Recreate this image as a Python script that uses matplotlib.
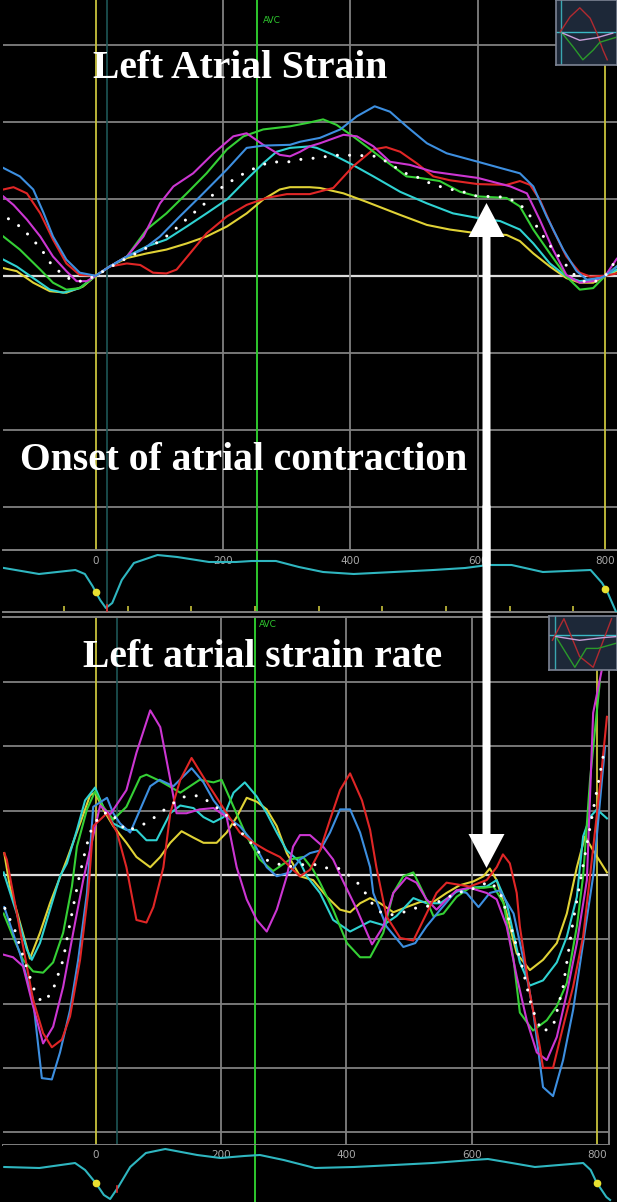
import numpy as np
import matplotlib
matplotlib.use("Agg")
import matplotlib.pyplot as plt
from matplotlib.patches import FancyArrow

W, H, DPI = 617, 1202, 100

# ---------------- Left atrial strain (%) vs time (ms) ----------------
ls_blue_t = [-145, -119, -98, -82, -67, -46, -25, 0, 22, 49, 74, 101, 132, 164, 206, 237, 263, 305, 321, 352, 384, 410, 438, 462, 488, 520, 551, 600, 635, 666, 687, 708, 734, 755, 771, 792, 800, 818]
ls_blue_v = [14.0, 12.9, 11.2, 8.2, 5.1, 2.1, 0.4, 0.0, 1.2, 2.5, 3.4, 5.1, 7.7, 10.3, 13.8, 16.6, 16.9, 17.0, 17.4, 17.9, 19.0, 20.7, 22.0, 21.3, 19.4, 17.2, 15.9, 14.8, 14.0, 13.3, 11.6, 7.7, 3.4, 0.6, -0.5, -0.3, 0.0, 1.2]

ls_red_t = [-145, -129, -108, -87, -67, -46, -25, 0, 22, 49, 70, 90, 111, 127, 148, 174, 206, 237, 268, 300, 336, 373, 404, 436, 456, 478, 504, 530, 556, 600, 645, 666, 682, 697, 718, 739, 760, 776, 800, 818]
ls_red_v = [11.2, 11.5, 10.7, 8.1, 4.7, 1.6, 0.1, 0.0, 1.2, 1.6, 1.4, 0.4, 0.3, 0.8, 2.9, 5.5, 7.7, 9.2, 10.1, 10.6, 10.6, 11.4, 14.2, 16.4, 16.7, 16.1, 14.6, 12.9, 12.4, 11.9, 11.8, 12.3, 11.8, 9.9, 6.0, 2.5, 0.4, -0.1, 0.0, 0.3]

ls_mag_t = [-145, -129, -108, -87, -67, -46, -30, -14, 0, 22, 49, 75, 101, 122, 153, 185, 216, 237, 263, 289, 305, 321, 336, 352, 389, 410, 436, 462, 493, 530, 600, 651, 677, 697, 718, 739, 760, 781, 800, 818]
ls_mag_v = [10.3, 9.2, 7.3, 5.1, 2.5, 0.6, -0.7, -0.7, 0.0, 1.2, 2.5, 5.1, 9.4, 11.6, 13.3, 15.9, 18.1, 18.5, 17.0, 15.7, 15.5, 16.1, 16.8, 17.2, 18.3, 18.1, 16.8, 14.8, 14.4, 13.5, 12.7, 11.6, 10.7, 7.3, 3.4, 0.1, -0.9, -0.7, 0.0, 2.2]

ls_grn_t = [-145, -119, -87, -67, -46, -25, 0, 22, 49, 80, 111, 143, 174, 206, 232, 263, 305, 336, 357, 378, 404, 425, 452, 488, 509, 540, 572, 600, 645, 666, 687, 713, 739, 760, 781, 800, 818]
ls_grn_v = [5.1, 3.4, 0.8, -0.9, -1.8, -1.6, 0.0, 1.2, 2.5, 6.0, 8.1, 10.7, 13.3, 16.4, 18.1, 19.0, 19.4, 19.9, 20.3, 19.6, 18.1, 16.8, 15.1, 12.9, 12.7, 12.3, 10.9, 10.3, 10.1, 9.0, 6.0, 2.9, -0.1, -1.8, -1.6, 0.0, 1.2]

ls_cyn_t = [-145, -124, -98, -72, -51, -25, 0, 22, 49, 80, 111, 143, 174, 206, 237, 263, 284, 305, 336, 347, 373, 399, 436, 478, 520, 561, 600, 635, 666, 687, 713, 739, 760, 781, 800, 818]
ls_cyn_v = [2.1, 1.2, -0.3, -1.8, -2.2, -1.6, 0.0, 1.2, 2.5, 3.8, 4.7, 6.4, 8.1, 9.9, 12.5, 14.6, 16.1, 16.6, 16.8, 16.6, 15.7, 14.6, 12.9, 10.9, 9.4, 8.1, 7.5, 7.1, 6.0, 4.2, 1.6, -0.1, -0.7, -0.5, 0.0, 0.8]

ls_yel_t = [-145, -124, -98, -72, -46, -20, 0, 22, 49, 80, 111, 143, 174, 206, 237, 263, 289, 305, 336, 352, 389, 425, 478, 520, 556, 600, 645, 666, 687, 713, 739, 760, 781, 800, 818]
ls_yel_v = [1.0, 0.6, -0.9, -2.0, -2.2, -1.4, 0.0, 1.2, 2.3, 2.9, 3.4, 4.2, 5.1, 6.4, 8.1, 9.9, 11.2, 11.5, 11.5, 11.4, 10.7, 9.6, 7.9, 6.6, 6.0, 5.5, 5.3, 4.5, 2.9, 1.2, -0.3, -0.9, -0.9, 0.0, 0.6]

ls_avg_t = [-137, -119, -103, -85, -69, -51, -35, -20, 0, 33, 70, 101, 117, 135, 153, 169, 185, 203, 221, 237, 271, 289, 305, 321, 336, 355, 373, 389, 407, 423, 441, 457, 472, 491, 509, 525, 540, 559, 577, 593, 611, 630, 645, 661, 677, 687, 697, 708, 718, 734, 747, 766, 781, 800, 815]
ls_avg_v = [7.4, 6.4, 5.1, 3.4, 1.4, 0.1, -0.7, -0.7, 0.0, 1.6, 3.2, 4.5, 5.5, 6.8, 8.1, 9.2, 10.6, 11.8, 12.7, 13.5, 14.7, 14.8, 14.8, 15.1, 15.2, 15.4, 15.6, 15.7, 15.6, 15.6, 15.5, 14.8, 14.0, 13.1, 12.7, 12.0, 11.6, 11.2, 10.9, 10.4, 10.3, 10.3, 10.1, 9.6, 8.4, 7.1, 5.8, 4.5, 3.4, 1.9, 0.4, -0.7, -0.9, 0.0, 1.8]

# ---------------- Left atrial strain rate (1/s) vs time (ms) ----------------
sr_red_t = [-146, -142, -100, -84, -70, -54, -41, -25, -12, -4, 18, 34, 49, 65, 81, 92, 108, 119, 135, 153, 172, 188, 209, 230, 252, 273, 294, 315, 326, 342, 358, 374, 390, 406, 425, 438, 448, 464, 486, 507, 528, 544, 560, 597, 624, 640, 650, 661, 672, 677, 693, 709, 714, 730, 746, 762, 778, 789, 806, 816]
sr_red_v = [0.17, 0.12, -0.97, -1.23, -1.34, -1.28, -1.10, -0.66, -0.14, 0.38, 0.48, 0.33, 0.06, -0.35, -0.37, -0.25, 0.06, 0.48, 0.74, 0.91, 0.76, 0.64, 0.48, 0.33, 0.25, 0.19, 0.14, 0.04, -0.01, 0.04, 0.19, 0.43, 0.66, 0.79, 0.58, 0.35, 0.06, -0.32, -0.49, -0.51, -0.30, -0.14, -0.06, -0.09, -0.04, 0.06, 0.16, 0.09, -0.14, -0.40, -0.92, -1.34, -1.50, -1.50, -1.18, -0.87, -0.48, -0.01, 0.74, 1.23]

sr_blue_t = [-146, -121, -100, -86, -70, -57, -41, -28, -14, -4, 18, 28, 39, 55, 71, 87, 102, 124, 153, 172, 188, 209, 230, 252, 273, 289, 310, 326, 342, 358, 374, 390, 406, 422, 438, 443, 464, 491, 510, 528, 550, 576, 592, 611, 629, 645, 667, 683, 698, 714, 730, 746, 762, 778, 794, 813]
sr_blue_v = [-0.25, -0.61, -0.97, -1.58, -1.59, -1.38, -1.05, -0.66, -0.14, 0.53, 0.60, 0.48, 0.40, 0.33, 0.51, 0.69, 0.74, 0.69, 0.83, 0.72, 0.58, 0.45, 0.38, 0.25, 0.06, -0.01, 0.02, 0.12, 0.17, 0.19, 0.33, 0.51, 0.51, 0.33, 0.06, -0.14, -0.40, -0.56, -0.53, -0.40, -0.27, -0.12, -0.14, -0.25, -0.14, -0.12, -0.30, -0.66, -1.05, -1.65, -1.72, -1.44, -1.05, -0.53, -0.01, 1.00]

sr_mag_t = [-147, -132, -116, -100, -84, -68, -52, -36, -20, 7, 23, 49, 65, 87, 103, 119, 129, 145, 166, 188, 209, 225, 241, 257, 273, 289, 305, 315, 326, 342, 363, 379, 395, 417, 441, 459, 475, 496, 512, 528, 544, 560, 576, 597, 624, 640, 656, 672, 688, 704, 720, 736, 752, 768, 784, 794, 808]
sr_mag_v = [-0.62, -0.64, -0.71, -1.02, -1.31, -1.18, -0.87, -0.45, -0.04, 0.54, 0.47, 0.66, 0.95, 1.28, 1.15, 0.74, 0.48, 0.48, 0.51, 0.52, 0.45, 0.06, -0.19, -0.35, -0.44, -0.27, -0.01, 0.22, 0.31, 0.31, 0.22, 0.12, -0.05, -0.27, -0.54, -0.40, -0.14, -0.02, -0.06, -0.19, -0.27, -0.19, -0.12, -0.10, -0.14, -0.19, -0.40, -0.79, -1.13, -1.38, -1.44, -1.26, -0.92, -0.53, -0.04, 1.26, 1.60]

sr_grn_t = [-147, -132, -116, -100, -84, -68, -52, -38, -30, -14, -1, 12, 28, 49, 71, 81, 103, 135, 166, 188, 201, 220, 241, 262, 283, 310, 331, 347, 358, 379, 401, 422, 438, 459, 475, 491, 507, 523, 539, 555, 576, 597, 619, 635, 651, 667, 677, 698, 720, 736, 752, 768, 778, 789, 805]
sr_grn_v = [-0.30, -0.48, -0.66, -0.75, -0.76, -0.68, -0.45, -0.09, 0.22, 0.51, 0.65, 0.53, 0.43, 0.53, 0.76, 0.78, 0.73, 0.64, 0.74, 0.72, 0.74, 0.53, 0.30, 0.12, 0.03, 0.12, 0.14, 0.04, -0.06, -0.27, -0.53, -0.64, -0.64, -0.45, -0.14, -0.01, 0.02, -0.14, -0.32, -0.30, -0.17, -0.10, -0.10, -0.09, -0.22, -0.66, -1.07, -1.21, -1.13, -1.02, -0.84, -0.40, -0.01, 0.74, 1.52]

sr_cyn_t = [-147, -126, -110, -102, -89, -73, -57, -46, -30, -17, -1, 12, 28, 49, 65, 81, 97, 119, 135, 156, 172, 188, 204, 220, 238, 257, 273, 289, 305, 326, 337, 358, 379, 406, 438, 459, 480, 507, 528, 550, 576, 597, 624, 640, 656, 677, 693, 714, 736, 752, 768, 778, 789, 800, 816]
sr_cyn_v = [0.02, -0.30, -0.58, -0.66, -0.53, -0.27, -0.01, 0.09, 0.35, 0.58, 0.68, 0.53, 0.40, 0.35, 0.35, 0.27, 0.27, 0.48, 0.54, 0.52, 0.45, 0.41, 0.45, 0.64, 0.72, 0.61, 0.48, 0.33, 0.19, 0.10, -0.01, -0.14, -0.35, -0.44, -0.36, -0.39, -0.32, -0.18, -0.22, -0.22, -0.13, -0.10, -0.09, -0.04, -0.22, -0.68, -0.86, -0.82, -0.68, -0.48, -0.17, 0.30, 0.45, 0.51, 0.44]

sr_yel_t = [-146, -137, -121, -105, -89, -73, -54, -46, -25, -9, -1, 12, 28, 49, 65, 87, 103, 119, 137, 156, 172, 193, 209, 225, 241, 257, 273, 289, 305, 326, 347, 369, 390, 406, 422, 438, 454, 475, 496, 518, 539, 560, 581, 603, 619, 629, 640, 645, 656, 672, 693, 714, 736, 752, 768, 781, 794, 816]
sr_yel_v = [0.17, -0.09, -0.37, -0.65, -0.45, -0.22, 0.02, 0.12, 0.40, 0.62, 0.64, 0.51, 0.38, 0.25, 0.14, 0.06, 0.14, 0.25, 0.34, 0.29, 0.25, 0.25, 0.33, 0.45, 0.60, 0.57, 0.51, 0.38, 0.17, -0.01, -0.04, -0.17, -0.27, -0.29, -0.22, -0.18, -0.22, -0.29, -0.25, -0.21, -0.21, -0.14, -0.08, -0.05, -0.01, 0.05, -0.04, -0.12, -0.30, -0.61, -0.74, -0.66, -0.53, -0.30, 0.06, 0.30, 0.19, 0.02]

sr_avg_t = [-145, -129, -113, -97, -86, -70, -61, -52, -44, -36, -27, -17, -9, 7, 23, 49, 84, 102, 119, 135, 153, 169, 188, 204, 220, 236, 246, 270, 289, 305, 323, 355, 371, 390, 414, 425, 441, 457, 472, 491, 507, 526, 542, 560, 576, 595, 611, 629, 645, 661, 680, 696, 712, 730, 746, 762, 773, 792, 813]
sr_avg_v = [-0.26, -0.43, -0.68, -0.91, -0.99, -0.92, -0.79, -0.66, -0.45, -0.25, -0.03, 0.18, 0.33, 0.47, 0.49, 0.34, 0.41, 0.48, 0.54, 0.60, 0.62, 0.61, 0.54, 0.49, 0.40, 0.31, 0.26, 0.12, 0.09, 0.06, 0.08, 0.08, 0.05, 0.05, -0.04, -0.10, -0.22, -0.30, -0.31, -0.29, -0.26, -0.25, -0.22, -0.18, -0.14, -0.12, -0.09, -0.05, -0.13, -0.37, -0.70, -1.03, -1.22, -1.18, -0.87, -0.36, -0.06, 0.45, 1.00]

# ---------------- ECG traces ----------------
ecg1_t = [-144, -89, -32, -17, -5, 7, 16, 26, 41, 60, 97, 128, 178, 220, 245, 283, 319, 357, 405, 468, 530, 580, 616, 653, 702, 777, 795, 804, 817]
ecg1_v = [0.2, -0.1, 0.1, -0.1, -0.7, -1.4, -1.8, -1.55, -0.4, 0.45, 0.85, 0.75, 0.5, 0.5, 0.55, 0.55, 0.25, 0.0, -0.1, 0.0, 0.1, 0.2, 0.35, 0.35, 0.0, 0.1, -0.55, -1.05, -2.0]
ecg2_t = [-146, -90, -33, -17, 0, 13, 23, 36, 55, 80, 111, 162, 199, 237, 262, 300, 350, 412, 476, 538, 601, 626, 664, 701, 778, 790, 799, 815, 821]
ecg2_v = [-0.1, -0.15, 0.1, -0.25, -0.9, -1.5, -1.7, -1.1, -0.1, 0.6, 0.8, 0.5, 0.35, 0.45, 0.5, 0.25, -0.15, -0.1, 0.0, 0.1, 0.25, 0.3, 0.1, -0.1, 0.1, -0.25, -0.85, -1.6, -1.75]

# ---------------- events / labels ----------------
time_ticks = [0, 200, 400, 600, 800]
time_labels = ["0", "200", "400", "600", "800"]
grid_times = [200, 400, 600]
cycle_marks = [0, 800]
minor_marks = [-50, 50, 150, 250, 350, 450, 550, 650, 750]
avc_top, avc_bot = 254, 255
teal_top, teal_bot = 17, 34
strain_grid = [-30, -20, -10, 10, 20, 30]
rate_grid = [-2.0, -1.5, -1.0, -0.5, 0.5, 1.0, 1.5]

# thumbnails (normalised inset coordinates)
th1_red_x = [0.07, 0.23, 0.39, 0.56, 0.67, 0.77, 0.84]
th1_red_y = [0.51, 0.74, 0.88, 0.72, 0.49, 0.23, 0.08]
th1_grn_x = [0.10, 0.28, 0.44, 0.61, 0.72, 1.0]
th1_grn_y = [0.49, 0.28, 0.08, 0.23, 0.35, 0.43]
th1_pnk_x = [0.11, 0.39, 0.67, 0.93]
th1_pnk_y = [0.49, 0.38, 0.42, 0.49]
th2_red_x = [0.05, 0.22, 0.45, 0.65, 0.92]
th2_red_y = [0.55, 0.95, 0.25, 0.05, 0.95]
th2_grn_x = [0.10, 0.38, 0.55, 0.72, 1.0]
th2_grn_y = [0.62, 0.05, 0.40, 0.40, 0.50]
th2_pnk_x = [0.10, 0.45, 0.80, 1.0]
th2_pnk_y = [0.62, 0.55, 0.60, 0.62]

C_BLUE, C_RED, C_MAG = "#3d8fe0", "#e02626", "#cc36d2"
C_GRN, C_CYN, C_YEL = "#35d035", "#2fd2d2", "#e0d236"
C_GRID, C_ZERO = "#808080", "#dcdcdc"
C_VYEL, C_TEAL, C_AVC = "#c8c23c", "#1e5656", "#2ec82e"
C_ECG = "#2fb6c0"

fig = plt.figure(figsize=(W / DPI, H / DPI), dpi=DPI, facecolor="black")


def px_axes(x0, y0, x1, y1, **kw):
    return fig.add_axes([x0 / W, 1 - y1 / H, (x1 - x0) / W, (y1 - y0) / H], **kw)


def clean(ax, spines_color=C_GRID, show=()):
    ax.set_facecolor("black")
    ax.set_xticks([])
    ax.set_yticks([])
    for k, s in ax.spines.items():
        s.set_visible(k in show)
        s.set_color(spines_color)
        s.set_linewidth(1.4)


ax1 = px_axes(3, 0, 617, 550)
ax1s = px_axes(3, 550, 617, 612)
ax2 = px_axes(3, 617, 609, 1145)
ax2s = px_axes(3, 1145, 617, 1202)

clean(ax1)
clean(ax1s, show=("top", "bottom"))
clean(ax2, show=("top", "bottom", "right"))
clean(ax2s)

ax1.set_xlim(-145.5, 818.4)
ax1.set_ylim(-35.6, 35.8)
ax1s.set_xlim(-145.5, 818.4)
ax1s.set_ylim(-2.0, 1.1)
ax2.set_xlim(-148, 819.3)
ax2.set_ylim(-2.10, 2.006)
ax2s.set_xlim(-148, 832)
ax2s.set_ylim(-1.85, 1.0)

# ---- grids / event lines ----
for ax, hg, tl, avc in ((ax1, strain_grid, teal_top, avc_top), (ax2, rate_grid, teal_bot, avc_bot)):
    for g in hg:
        ax.axhline(g, color=C_GRID, lw=1.3, zorder=1)
    ax.axhline(0, color=C_ZERO, lw=1.6, zorder=1)
    for g in grid_times:
        ax.axvline(g, color=C_GRID, lw=1.3, zorder=1)
    for g in cycle_marks:
        ax.axvline(g, color=C_VYEL, lw=1.3, zorder=1.5)
    ax.axvline(tl, color=C_TEAL, lw=1.2, zorder=1)
    ax.axvline(avc, color=C_AVC, lw=1.4, zorder=1.5)

ax1.text(avc_top + 8, 33.1, "AVC", color=C_AVC, fontsize=6.5, va="center", ha="left")
ax2.text(avc_bot + 5, 1.95, "AVC", color=C_AVC, fontsize=6.5, va="center", ha="left")

# ---- strain curves ----
lw = 1.5
for t, v, c in ((ls_yel_t, ls_yel_v, C_YEL), (ls_cyn_t, ls_cyn_v, C_CYN), (ls_red_t, ls_red_v, C_RED),
                (ls_grn_t, ls_grn_v, C_GRN), (ls_mag_t, ls_mag_v, C_MAG), (ls_blue_t, ls_blue_v, C_BLUE)):
    ax1.plot(t, v, color=c, lw=lw, zorder=3, solid_joinstyle="round")
ax1.plot(ls_avg_t, ls_avg_v, color="white", lw=2.2, ls=(0, (0.01, 4.0)),
         dash_capstyle="round", zorder=4)

# ---- strain-rate curves ----
for t, v, c in ((sr_yel_t, sr_yel_v, C_YEL), (sr_cyn_t, sr_cyn_v, C_CYN), (sr_grn_t, sr_grn_v, C_GRN),
                (sr_blue_t, sr_blue_v, C_BLUE), (sr_mag_t, sr_mag_v, C_MAG), (sr_red_t, sr_red_v, C_RED)):
    ax2.plot(t, v, color=c, lw=lw, zorder=3)
ax2.plot(sr_avg_t, sr_avg_v, color="white", lw=2.2, ls=(0, (0.01, 4.0)),
         dash_capstyle="round", zorder=4)

# ---- ECG strips ----
for axs, et, ev, avc, tl in ((ax1s, ecg1_t, ecg1_v, avc_top, teal_top), (ax2s, ecg2_t, ecg2_v, avc_bot, teal_bot)):
    axs.axvline(avc, color=C_AVC, lw=1.4, zorder=1)
    axs.plot(et, ev, color=C_ECG, lw=1.5, zorder=3)
    axs.plot(cycle_marks, np.interp(cycle_marks, et, ev), "o", color="#e8e030", ms=4.5, zorder=4)
    axs.plot([tl, tl], [np.interp(tl, et, ev) - 0.15, np.interp(tl, et, ev) + 0.15], color="#e03030", lw=1.2, zorder=4)
    for x, s in zip(time_ticks, time_labels):
        axs.text(x, 0.82, s, transform=axs.get_xaxis_transform(), ha="center", va="center",
                 color="#a8a8a8", fontsize=7.5, zorder=2)
ax1s.axvline(teal_top, color=C_TEAL, lw=1.2, zorder=1)
ax1s.vlines(minor_marks, 0, 0.09, transform=ax1s.get_xaxis_transform(), color="#c8c23c", lw=1.2)

# ---- thumbnails ----
for box, rx, ry, gx, gy, px_, py_, hy in (((556, 0, 617, 65), th1_red_x, th1_red_y, th1_grn_x, th1_grn_y, th1_pnk_x, th1_pnk_y, 0.51),
                                          ((549, 616, 617, 670), th2_red_x, th2_red_y, th2_grn_x, th2_grn_y, th2_pnk_x, th2_pnk_y, 0.65)):
    ins = px_axes(*box, zorder=6)
    ins.set_facecolor("#1d2838")
    ins.set_xticks([]); ins.set_yticks([])
    for s in ins.spines.values():
        s.set_color("#7c8494"); s.set_linewidth(1.2)
    ins.set_xlim(0, 1); ins.set_ylim(0, 1)
    ins.axvline(0.09, color="#3aa6b0", lw=1.0)
    ins.axhline(hy, color="#3ab8c4", lw=1.0)
    ins.plot(rx, ry, color="#b02a30", lw=1.0)
    ins.plot(gx, gy, color="#2a9a2a", lw=1.0)
    ins.plot(px_, py_, color="#c8a0d8", lw=1.0)

# ---- titles / annotation ----
tkw = dict(color="white", fontsize=28.5, fontweight="bold", family=["Liberation Serif", "DejaVu Serif"],
           va="baseline", ha="left", zorder=8)
fig.text(93 / W, 1 - 78 / H, "Left Atrial Strain", **tkw)
fig.text(20 / W, 1 - 470 / H, "Onset of atrial contraction", **tkw)
fig.text(83 / W, 1 - 667 / H, "Left atrial strain rate", **tkw)

ax_x = 486.5 / DPI
top_tip = (H - 203) / DPI
bot_tip = (H - 868) / DPI
mid = (top_tip + bot_tip) / 2
for tip, start in ((top_tip, mid - 0.3), (bot_tip, mid + 0.3)):
    fig.add_artist(FancyArrow(ax_x, start, 0, tip - start, width=0.08, head_width=0.36, head_length=0.34,
                              length_includes_head=True, color="white", lw=0,
                              transform=fig.dpi_scale_trans, zorder=9))

fig.savefig("out.png", dpi=DPI, facecolor="black")
